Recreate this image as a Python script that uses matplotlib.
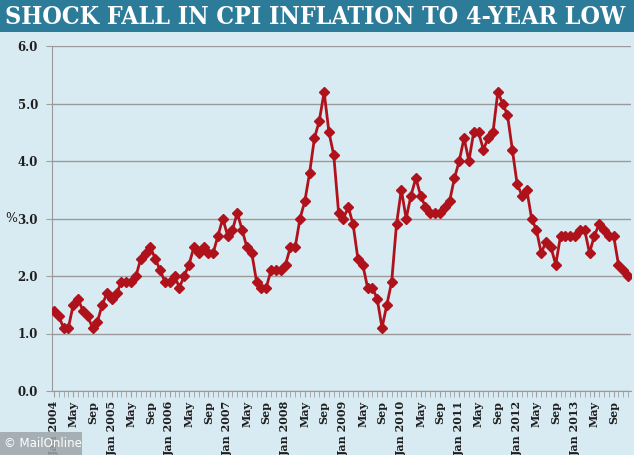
import matplotlib
matplotlib.use("Agg")
import matplotlib.pyplot as plt
from matplotlib.ticker import FixedLocator, MultipleLocator

years = list(range(2004, 2014))
cpi = [
    1.4, 1.3, 1.1, 1.1, 1.5, 1.6, 1.4, 1.3, 1.1, 1.2, 1.5, 1.7,   # 2004
    1.6, 1.7, 1.9, 1.9, 1.9, 2.0, 2.3, 2.4, 2.5, 2.3, 2.1, 1.9,   # 2005
    1.9, 2.0, 1.8, 2.0, 2.2, 2.5, 2.4, 2.5, 2.4, 2.4, 2.7, 3.0,   # 2006
    2.7, 2.8, 3.1, 2.8, 2.5, 2.4, 1.9, 1.8, 1.8, 2.1, 2.1, 2.1,   # 2007
    2.2, 2.5, 2.5, 3.0, 3.3, 3.8, 4.4, 4.7, 5.2, 4.5, 4.1, 3.1,   # 2008
    3.0, 3.2, 2.9, 2.3, 2.2, 1.8, 1.8, 1.6, 1.1, 1.5, 1.9, 2.9,   # 2009
    3.5, 3.0, 3.4, 3.7, 3.4, 3.2, 3.1, 3.1, 3.1, 3.2, 3.3, 3.7,   # 2010
    4.0, 4.4, 4.0, 4.5, 4.5, 4.2, 4.4, 4.5, 5.2, 5.0, 4.8, 4.2,   # 2011
    3.6, 3.4, 3.5, 3.0, 2.8, 2.4, 2.6, 2.5, 2.2, 2.7, 2.7, 2.7,   # 2012
    2.7, 2.8, 2.8, 2.4, 2.7, 2.9, 2.8, 2.7, 2.7, 2.2, 2.1, 2.0,   # 2013
]
tick_labels = []
for y in years:
    tick_labels += [f"Jan {y}", "May", "Sep"]
y_ticks = [0.0, 1.0, 2.0, 3.0, 4.0, 5.0, 6.0]
title = "SHOCK FALL IN CPI INFLATION TO 4-YEAR LOW"

BG = "#d9ebf2"
BANNER = "#2c7b98"
RED = "#b0121b"
FONT = "DejaVu Serif"

W, H = 634, 455
fig = plt.figure(figsize=(W / 100, H / 100), dpi=100, facecolor=BG)

# banner
fig.patches.append(plt.Rectangle((0, 1 - 32 / H), 1, 32 / H, transform=fig.transFigure,
                                 facecolor=BANNER, edgecolor="none", zorder=0))
t = fig.text(5 / W, 1 - 16.5 / H, title, color="white", fontfamily=FONT, fontweight="bold",
             fontstretch="condensed", fontsize=20, va="center", ha="left")
fig.canvas.draw()
bb = t.get_window_extent()
t.set_fontsize(min(21, 20 * (622 / bb.width)))

ax = fig.add_axes([52 / W, (H - 391) / H, (631 - 52) / W, (391 - 46) / H], facecolor=BG)
x = list(range(len(cpi)))
ax.plot(x, cpi, color=RED, lw=2.0, marker="D", ms=4.6, mfc=RED, mec=RED, zorder=3)

ax.set_ylim(0, 6)
ax.set_xlim(-0.4, len(cpi) - 0.4)
ax.set_yticks(y_ticks)
ax.set_yticklabels([f"{v:.1f}" for v in y_ticks], fontfamily=FONT, fontweight="bold",
                   fontsize=8.5, color="#1e1e1e")
ax.yaxis.grid(True, color="#9a9a9a", lw=1.0)
ax.set_axisbelow(True)

ax.xaxis.set_major_locator(FixedLocator(list(range(0, len(cpi), 4))))
ax.set_xticklabels(tick_labels, rotation=90, fontfamily=FONT, fontweight="bold",
                   fontsize=8, color="#1e1e1e", va="top", ha="center")
ax.xaxis.set_minor_locator(MultipleLocator(1))
ax.tick_params(axis="x", which="both", length=4, color="#a0a0a0", pad=3)
ax.tick_params(axis="y", length=4, color="#a0a0a0", pad=6)

for s in ["top", "right"]:
    ax.spines[s].set_visible(False)
ax.spines["left"].set_color("#999999")
ax.spines["bottom"].set_color("#999999")

ax.set_ylabel("%", rotation=0, fontfamily=FONT, fontsize=9, color="#1e1e1e",
              labelpad=2, va="center")
ax.yaxis.set_label_coords(-0.07, 0.5)

# watermark
fig.patches.append(plt.Rectangle((0, 0), 82 / W, 23 / H, transform=fig.transFigure,
                                 facecolor="#9ea6aa", edgecolor="none", alpha=0.85, zorder=5))
fig.text(4 / W, 11.5 / H, "© MailOnline", color="white", fontsize=8.5,
         fontfamily="DejaVu Sans", va="center", ha="left", zorder=6)

fig.savefig("out.png", dpi=100, facecolor=BG)
